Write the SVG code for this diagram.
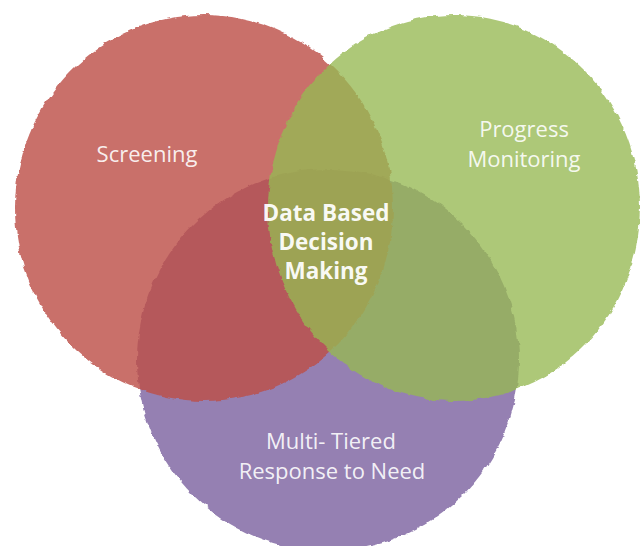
<svg xmlns="http://www.w3.org/2000/svg" width="640" height="546" viewBox="0 0 640 546">
  <defs>
    <!-- rough, brushed edge for the painted discs -->
    <filter id="brush" x="-5%" y="-5%" width="110%" height="110%">
      <feTurbulence type="fractalNoise" baseFrequency="0.08 0.12" numOctaves="3" seed="7" result="noise"/>
      <feDisplacementMap in="SourceGraphic" in2="noise" scale="5" xChannelSelector="R" yChannelSelector="G"/>
    </filter>
    <style>
      .disc { filter: url(#brush); }
      .label { font-family: "Open Sans", "Noto Sans", "Liberation Sans", sans-serif; font-size: 22px; fill: #ffffff; fill-opacity: 0.9; text-anchor: middle; }
      .core { font-family: "Open Sans", "Noto Sans", "Liberation Sans", sans-serif; font-size: 22.5px; font-weight: 700; fill: #ffffff; fill-opacity: 0.95; text-anchor: middle; }
    </style>
  </defs>
  <rect width="640" height="546" fill="#ffffff"/>

  <g id="mtrn">
    <ellipse class="disc" cx="328" cy="360" rx="191" ry="191" fill="#9580b2"/>
    <text class="label" x="331" y="449">Multi- Tiered</text>
    <text class="label" x="332" y="479">Response to Need</text>
  </g>

  <g id="screening">
    <ellipse class="disc" cx="204" cy="208" rx="189" ry="193" fill="#bc4d48" fill-opacity="0.81"/>
    <text class="label" x="147" y="162">Screening</text>
  </g>

  <g id="progress-monitoring">
    <ellipse class="disc" cx="454" cy="208" rx="186" ry="193" fill="#96b952" fill-opacity="0.78"/>
    <text class="label" x="524" y="137">Progress</text>
    <text class="label" x="524" y="167">Monitoring</text>
  </g>

  <g id="data-based-decision-making">
    <text class="core" x="326" y="221">Data Based</text>
    <text class="core" x="326" y="250">Decision</text>
    <text class="core" x="326" y="279">Making</text>
  </g>

  <g id="connectors"/>
</svg>
